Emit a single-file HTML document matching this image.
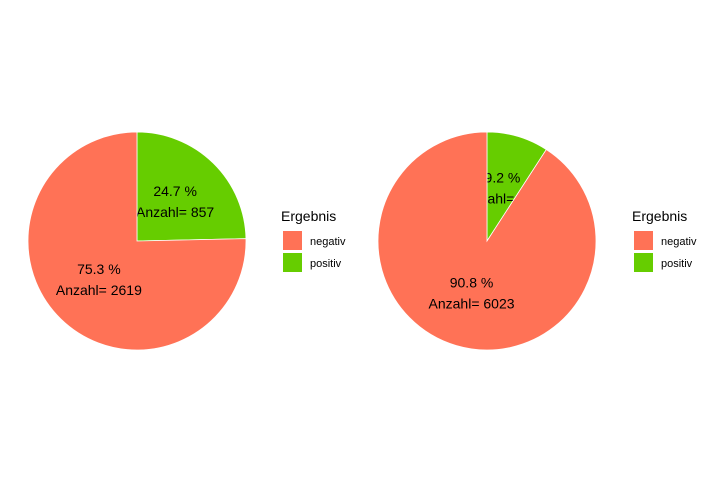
<!DOCTYPE html>
<html><head><meta charset="utf-8"><style>
body{margin:0;background:#fff}
svg{display:block;font-family:"Liberation Sans",Arial,sans-serif}
</style></head><body>
<svg id="chart" width="701" height="484" viewBox="0 0 701 484"></svg>
<script>
const categories = ["negativ","positiv"];
const countsLeft = [2619, 857];
const countsRight = [6023, 607];
const colors = {negativ:"#FF7256", positiv:"#66CD00"};
const NS="http://www.w3.org/2000/svg";
const svg=document.getElementById('chart');
function mk(tag,attrs,parent){const e=document.createElementNS(NS,tag);for(const k in attrs)e.setAttribute(k,attrs[k]);(parent||svg).appendChild(e);return e;}
function drawPie(cx,cy,r,counts,name,legX){
  const g=mk('g',{});
  
  
  const total=counts[0]+counts[1];
  // positiv starts at 12 o'clock clockwise, negativ follows
  const order=[1,0];
  let a0=0;
  order.forEach(i=>{
    const frac=counts[i]/total;
    const a1=a0+frac*2*Math.PI;
    const p=(a)=>[cx+r*Math.sin(a),cy-r*Math.cos(a)];
    const [x0,y0]=p(a0),[x1,y1]=p(a1);
    const large=(a1-a0)>Math.PI?1:0;
    const path=mk('path',{d:`M${cx},${cy}L${x0},${y0}A${r},${r} 0 ${large} 1 ${x1},${y1}Z`,fill:colors[categories[i]],stroke:'#fff','stroke-width':0.8},g);
    
    
    const mid=(a0+a1)/2, lr=r*0.5;
    const lx=cx+lr*Math.sin(mid), ly=cy-lr*Math.cos(mid);
    const t1=mk('text',{x:lx,y:ly-6,'text-anchor':'middle','font-size':14,fill:'#000'},g);
    t1.textContent=(frac*100).toFixed(1)+' %';
    
    
    const t2=mk('text',{x:lx,y:ly+15,'text-anchor':'middle','font-size':14,fill:'#000'},g);
    t2.textContent='Anzahl= '+counts[i];
    
    
    a0=a1;
  });
  const lg=mk('g',{});
  
  
  const tt=mk('text',{x:legX,y:221,'font-size':14,fill:'#000'},lg);
  tt.textContent='Ergebnis';
  
  
  categories.forEach((c,k)=>{
    const y=231+k*22;
    const rc=mk('rect',{x:legX+2,y:y,width:19,height:19,fill:colors[c]},lg);
    
    
    const tx=mk('text',{x:legX+29,y:y+14,'font-size':11,fill:'#000'},lg);
    tx.textContent=c;
    
    
  });
}
drawPie(137,241,109,countsLeft,'pie-left',281);
drawPie(487,241,109,countsRight,'pie-right',632);
</script>
</body></html>
